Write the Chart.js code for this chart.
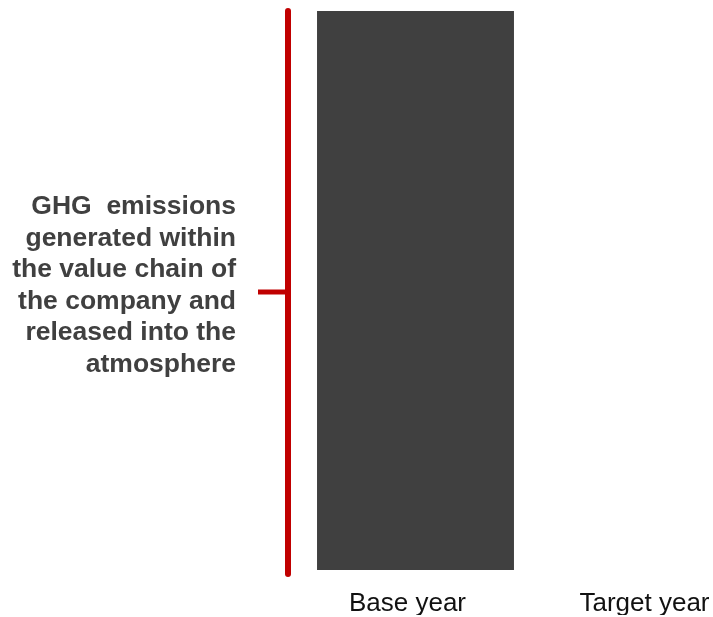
<!DOCTYPE html>
<html>
<head>
<meta charset="utf-8">
<script src="https://cdn.jsdelivr.net/npm/chart.js@4.4.0/dist/chart.umd.min.js"></script>
<style>
  html, body { margin: 0; padding: 0; background: #fff; overflow: hidden; }
  #wrap { position: relative; width: 800px; height: 617px; }
</style>
</head>
<body>
<div id="wrap"><canvas id="ghgChart"></canvas></div>
<script>
const categories = ["Base year", "Target year"];
const emissions = [100, null];
const bracketText = [
  "GHG  emissions",
  "generated within",
  "the value chain of",
  "the company and",
  "released into the",
  "atmosphere",
];

const barColor = "#404040";
const bracketColor = "#C00000";
const fontFamily = "'Liberation Sans', Arial, sans-serif";

// red bracket plus the text that goes with it
const bracketPlugin = {
  id: "bracket",
  afterDraw(chart) {
    const ctx = chart.ctx;
    const y = chart.scales.y;
    const top = y.getPixelForValue(100);
    const bottom = y.getPixelForValue(0) + 4;
    const lineX = 288;
    const midY = 292;

    ctx.save();
    ctx.strokeStyle = bracketColor;
    ctx.lineWidth = 6;
    ctx.lineCap = "round";
    ctx.beginPath();
    ctx.moveTo(lineX, top);
    ctx.lineTo(lineX, bottom);
    ctx.stroke();

    ctx.lineWidth = 5;
    ctx.lineCap = "butt";
    ctx.beginPath();
    ctx.moveTo(258, midY);
    ctx.lineTo(lineX, midY);
    ctx.stroke();

    ctx.fillStyle = "#404040";
    ctx.font = "bold 26.5px " + fontFamily;
    ctx.textAlign = "right";
    ctx.textBaseline = "alphabetic";
    bracketText.forEach((line, i) => {
      ctx.fillText(line, 236, 214 + i * 31.6);
    });
    ctx.restore();
  },
};

new Chart(document.getElementById("ghgChart"), {
  type: "bar",
  data: {
    labels: categories,
    datasets: [
      {
        data: emissions,
        backgroundColor: barColor,
        borderWidth: 0,
        categoryPercentage: 1,
        barPercentage: 0.831,
      },
    ],
  },
  options: {
    responsive: true,
    maintainAspectRatio: false,
    animation: false,
    layout: {
      padding: { left: 297, right: 29, top: 11, bottom: 2 },
    },
    plugins: {
      legend: { display: false },
      tooltip: { enabled: false },
    },
    scales: {
      x: {
        offset: true,
        grid: { display: false, drawTicks: false },
        border: { display: false },
        afterFit(scale) {
          scale.height = 45;
        },
        ticks: {
          color: "#111",
          padding: 18,
          labelOffset: -8,
          maxRotation: 0,
          autoSkip: false,
          font: { size: 26, family: fontFamily },
        },
      },
      y: {
        display: false,
        min: 0,
        max: 100,
      },
    },
  },
  plugins: [bracketPlugin],
});
</script>
</body>
</html>
